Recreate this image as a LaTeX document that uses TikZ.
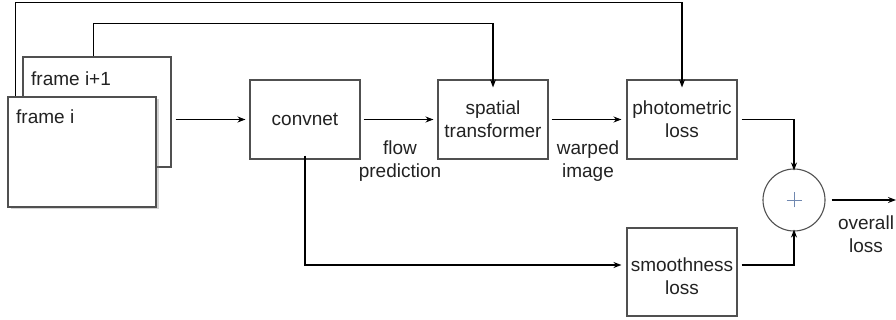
\documentclass[tikz,border=0pt]{standalone}
\usepackage{fontspec}
\setmainfont{Liberation Sans}
\usetikzlibrary{arrows.meta,shadows}
\definecolor{boxgray}{HTML}{505050}
\definecolor{txt}{HTML}{222222}
\definecolor{plusblue}{HTML}{7088B0}
\begin{document}
\begin{tikzpicture}[x=1pt,y=-1pt,
  every node/.style={font=\fontsize{19}{23}\selectfont, text=txt},
  box/.style={draw=boxgray, line width=1.1pt, fill=white, rectangle,
    minimum width=110pt, minimum height=79pt, align=center, inner sep=0pt},
  framebox/.style={draw=boxgray, line width=1.1pt, fill=white, rectangle,
    minimum width=148pt, minimum height=110pt, inner sep=0pt},
  lbl/.style={align=center, inner sep=0pt},
  arr/.style={draw=black, line width=1.3pt, -{Stealth[length=8pt,width=6pt]}},
  wire/.style={draw=black, line width=1.3pt}
]
\useasboundingbox (0,0) rectangle (896,320);

% input frames
\node[framebox] (frame1) at (97,112) {};
\node[lbl, anchor=west] (t1) at (31,79) {frame i+1};
\node[framebox, drop shadow={shadow xshift=2.5pt, shadow yshift=-2.5pt, opacity=0.35}] (frame0) at (82,152) {};
\node[lbl, anchor=west] (t0) at (16,117) {frame i};

% processing blocks
\node[box] (conv) at (305,119.5) {convnet};
\node[box] (st) at (493,119.5) {spatial\\transformer};
\node[box] (photo) at (682,119.5) {photometric\\loss};
\node[box, minimum height=88pt] (smooth) at (682,272) {};
\node[lbl] (smoothtxt) at (682,276) {smoothness\\loss};
\node[circle, draw=boxgray, line width=1.1pt, minimum size=62pt, inner sep=0pt] (sum) at (794,200) {};
\draw[plusblue, line width=0.6pt] ([xshift=-7.5pt]sum.center) -- ([xshift=7.5pt]sum.center)
  ([yshift=-7.5pt]sum.center) -- ([yshift=7.5pt]sum.center);

% edge labels
\node[lbl] (flow) at (400,161) {flow\\prediction};
\node[lbl] (warp) at (588,161) {warped\\image};
\node[lbl] (overall) at (866,234) {overall\\loss};
\coordinate (out) at (896,200);

% connectors
\draw[arr] ([xshift=4pt]frame1.east |- conv.west) -- ([xshift=-4pt]conv.west);
\draw[arr] ([xshift=3pt]conv.east) -- ([xshift=-4pt]st.west);
\draw[arr] ([xshift=3pt]st.east) -- ([xshift=-5pt]photo.west);

\draw[arr] ([xshift=8pt]frame0.north west) -- ++(0,-94) -| ([yshift=-8pt]photo.north);
\draw[arr] ([xshift=71pt]frame1.north west) -- ++(0,-33) -| ([yshift=-8pt]st.north);

\draw[arr] ([yshift=4pt]conv.south) |- ([xshift=-5pt,yshift=7pt]smooth.west);

\draw[arr] ([xshift=4pt]photo.east) -| ([yshift=-2pt]sum.north);
\draw[arr] ([xshift=4pt,yshift=7pt]smooth.east) -| ([yshift=2pt]sum.south);
\draw[arr] ([xshift=6pt]sum.east) -- (out);
\end{tikzpicture}
\end{document}
